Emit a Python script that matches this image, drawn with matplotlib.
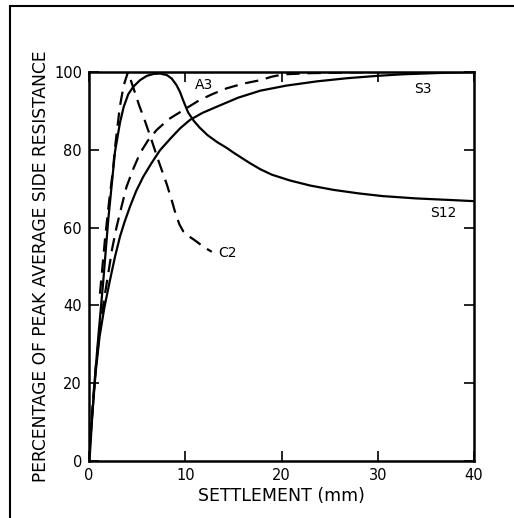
import matplotlib
matplotlib.use("Agg")
import matplotlib.pyplot as plt
from matplotlib.patches import Rectangle

# Settlement (mm) / percentage of peak average side resistance
s12_x = [0, 0.1, 0.3, 0.6, 0.97, 1.49, 2.0, 2.7, 3.22, 3.6, 4.08, 4.6, 5.3, 6.0, 6.7, 7.4, 8.1, 8.6, 9.1, 9.45, 9.8, 10.3, 10.9, 11.5, 12.3, 13.3, 14.3, 15.0, 16.0, 16.7, 17.8, 19.0, 20.9, 23.0, 25.4, 28.0, 30.5, 34.0, 37.5, 40.0]
s12_y = [0, 2, 10, 21, 32, 46.5, 62, 79.5, 87, 91, 94.3, 96.2, 97.9, 99.0, 99.5, 99.6, 99.2, 98.3, 96.6, 94.9, 92.6, 89.6, 87.4, 85.7, 83.8, 82.0, 80.5, 79.3, 77.7, 76.6, 75.0, 73.6, 72.1, 70.8, 69.7, 68.8, 68.1, 67.5, 67.1, 66.8]

s3_x = [0, 0.15, 0.4, 0.7, 1.1, 1.6, 2.18, 2.7, 3.22, 3.7, 4.26, 4.9, 5.64, 6.5, 7.38, 8.5, 9.5, 10.5, 11.8, 13.3, 15.5, 17.8, 20.5, 23.7, 26.8, 29.9, 32.5, 34.7, 37.0, 40.0]
s3_y = [0, 6, 14, 23, 32, 39.5, 46.5, 52.5, 57.7, 61.5, 65.4, 69.4, 73.1, 76.6, 79.9, 83.0, 85.6, 87.7, 89.5, 91.1, 93.4, 95.2, 96.5, 97.6, 98.4, 99.0, 99.4, 99.6, 99.8, 100]

a3_x = [0, 0.15, 0.4, 0.7, 1.0, 1.5, 2.0, 2.4, 2.87, 3.4, 3.9, 4.6, 5.3, 6.1, 7.03, 8.3, 9.8, 11.5, 12.9, 14.3, 16.0, 17.8, 19.0, 20.2, 23.0, 27.0, 31.0, 35.0]
a3_y = [0, 6, 15, 24, 31, 40.5, 48.2, 54.5, 60.2, 65.6, 70.5, 75.1, 79.1, 82.3, 85.1, 87.9, 90.2, 92.8, 94.4, 95.8, 97.0, 97.9, 98.8, 99.4, 99.7, 99.9, 100, 100]

c2_x = [1.14, 1.4, 1.66, 2.1, 2.5, 2.7, 3.2, 3.6, 4.05, 4.6, 5.2, 5.8, 6.5, 7.1, 8.1, 8.6, 9.0, 9.4, 9.8, 10.3, 10.9, 11.5, 11.9, 12.4, 12.75]
c2_y = [43, 50, 57, 67, 75, 80.5, 91, 96.5, 100, 96, 91.5, 87.5, 82.5, 78, 71, 67, 63.5, 60.8, 59.0, 57.9, 56.9, 55.8, 55.1, 54.3, 53.8]

curve_labels = ["A3", "C2", "S3", "S12"]
label_x = [11.9, 14.4, 34.7, 36.8]
label_y = [96.7, 53.5, 95.6, 63.7]

x_ticks = [0, 10, 20, 30, 40]
y_ticks = [0, 20, 40, 60, 80, 100]

plt.rcParams['font.family'] = ['DejaVu Sans']

fig = plt.figure(figsize=(5.14, 5.18), dpi=100)
ax = fig.add_axes([89/514, (518-461)/518, 385/514, 389/518])

lw = 1.6
ax.plot(s12_x, s12_y, color='black', lw=lw, solid_capstyle='round')
ax.plot(s3_x, s3_y, color='black', lw=lw, solid_capstyle='round')
ax.plot(a3_x, a3_y, color='black', lw=lw, dashes=(6, 3.5))
ax.plot(c2_x, c2_y, color='black', lw=lw, dashes=(6, 3.5))

for t, x, y in zip(curve_labels, label_x, label_y):
    ax.text(x, y, t, fontsize=10, ha='center', va='center')

ax.set_xlim(0, 40)
ax.set_ylim(0, 100)
ax.set_xticks(x_ticks)
ax.set_yticks(y_ticks)
ax.tick_params(direction='in', length=7, width=1.2, top=True, right=True, labelsize=10.5, pad=5)
for sp in ax.spines.values():
    sp.set_linewidth(1.8)

ax.set_xlabel("SETTLEMENT (mm)", fontsize=12.5, labelpad=3)
ax.set_ylabel("PERCENTAGE OF PEAK AVERAGE SIDE RESISTANCE", fontsize=12.3, labelpad=3)

fig.patches.append(Rectangle((10/514, -0.1), 1.2, (518-6)/518 + 0.1, transform=fig.transFigure,
                             fill=False, edgecolor='black', lw=1.5))

fig.savefig("out.png", dpi=100)
